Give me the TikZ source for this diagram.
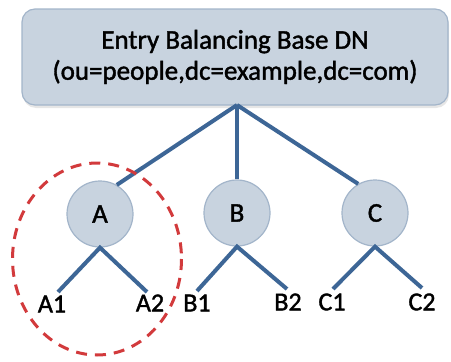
\documentclass[tikz,border=0pt]{standalone}
\usepackage{fontspec}
\setmainfont{Carlito}[FakeBold=1.5]
\usetikzlibrary{shadows}
\definecolor{boxfill}{HTML}{C8D3DF}
\definecolor{boxline}{HTML}{A3B5CA}
\definecolor{linkc}{HTML}{3D6696}
\definecolor{redc}{HTML}{D23A3C}
\begin{document}
\begin{tikzpicture}[x=1pt,y=-1pt,
  basebox/.style={draw=boxline,line width=1.2pt,fill=boxfill,rounded corners=13pt,
    drop shadow={shadow xshift=1pt,shadow yshift=-3pt,opacity=0.2},
    minimum width=426pt,minimum height=96pt,align=center,
    font=\fontsize{27}{31}\selectfont,inner sep=0pt},
  subnode/.style={circle,draw=boxline,line width=1.2pt,fill=boxfill,minimum size=66pt,
    inner sep=0pt,font=\fontsize{27}{30}\selectfont},
  leaf/.style={font=\fontsize{26}{30}\selectfont,inner sep=0pt,anchor=center},
  link/.style={draw=linkc,line width=4pt},
  grp/.style={draw=redc,line width=3pt,dash pattern=on 11pt off 8pt}]
\useasboundingbox (0,0) rectangle (451,362);
\node[basebox] (root) at (235,57) {Entry Balancing Base DN\\(ou=people,dc=example,dc=com)};
\coordinate (rb) at (237,105);
\node[subnode] (A) at (100,214) {A};
\node[subnode] (B) at (237,213) {B};
\node[subnode] (C) at (375,213) {C};
\draw[link] (rb) -- (A.60);
\draw[link] (rb) -- (B.north);
\draw[link] (rb) -- (C.120);
\node[leaf] (A1) at (52,304) {A1};
\node[leaf] (A2) at (150,303) {A2};
\node[leaf] (B1) at (197,303) {B1};
\node[leaf] (B2) at (288,302) {B2};
\node[leaf] (C1) at (332,302) {C1};
\node[leaf] (C2) at (422,302) {C2};
\coordinate (a1t) at (58,292);
\coordinate (a2t) at (147,292);
\coordinate (b1t) at (197,291);
\coordinate (b2t) at (287,289);
\coordinate (c1t) at (333,289);
\coordinate (c2t) at (422,288);
\draw[link] (a1t) -- (A.south) -- (a2t);
\draw[link] (b1t) -- (B.south) -- (b2t);
\draw[link] (c1t) -- (C.south) -- (c2t);
\draw[grp] (97,259) ellipse [x radius=84.5, y radius=96];
\end{tikzpicture}
\end{document}
